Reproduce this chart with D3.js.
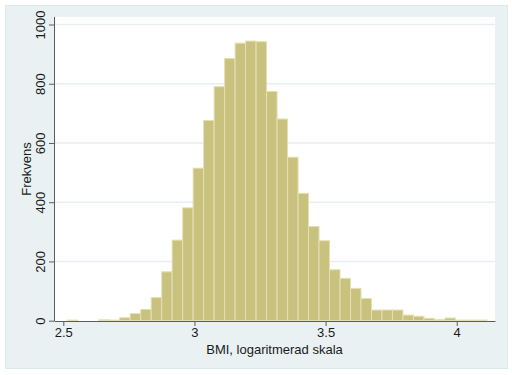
<!DOCTYPE html>
<html>
<head>
<meta charset="utf-8">
<script src="https://cdn.jsdelivr.net/npm/d3@7"></script>
<style>
  html, body { margin: 0; padding: 0; background: #fff; }
  #chart { width: 512px; height: 375px; }
  .chart-svg { display: block; font-family: "Liberation Sans", Arial, sans-serif; }
  .axis-g text { fill: #1a1a1a; font-size: 13px; }
  .axis-g .tick line, .axis-g .domain { stroke: #5c5c5c; }
  .bar-rect { fill: #c9c27f; stroke: #e4e0b2; stroke-width: 1; }
  .grid-line { stroke: #e7eff1; stroke-width: 1.4; }
  .axis-title { fill: #1a1a1a; font-size: 13px; }
</style>
</head>
<body>
<div id="chart"></div>
<script>
// left edges of the histogram bins (BMI on log scale)
const binLefts = [
  2.515, 2.555, 2.595, 2.635, 2.675, 2.715, 2.755, 2.795, 2.835, 2.875,
  2.915, 2.955, 2.995, 3.035, 3.075, 3.115, 3.155, 3.195, 3.235, 3.275,
  3.315, 3.355, 3.395, 3.435, 3.475, 3.515, 3.555, 3.595, 3.635, 3.675,
  3.715, 3.755, 3.795, 3.835, 3.875, 3.915, 3.955, 3.995, 4.035, 4.075,
];
const binWidth = 0.04;
const counts = [
  2, 0, 0, 3, 2, 10, 24, 38, 78, 165,
  272, 381, 515, 676, 790, 885, 937, 944, 942, 774,
  681, 552, 430, 318, 270, 172, 143, 109, 75, 36,
  36, 36, 19, 15, 8, 4, 9, 2, 2, 2,
];
const xTicks = [2.5, 3, 3.5, 4];
const yTicks = [0, 200, 400, 600, 800, 1000];
const xTitle = "BMI, logaritmerad skala";
const yTitle = "Frekvens";

class Histogram {
  constructor({ el }) {
    this.el = el;
    this.setup();
    this.scaffold();
    this.render();
  }

  setup() {
    this.width = 512;
    this.height = 375;
    // plot region (white area) in pixels
    this.plotLeft = 54;
    this.plotRight = 495;
    this.plotTop = 17;
    this.plotBottom = 321;

    this.x = d3.scaleLinear().domain([2.4645, 4.1459]).range([this.plotLeft, this.plotRight]);
    this.y = d3.scaleLinear().domain([0, 1000]).range([320.7, 24.5]);
    this.data = binLefts.map((x0, i) => ({ x0, x1: x0 + binWidth, n: counts[i] }));
  }

  scaffold() {
    this.svg = d3
      .select(this.el)
      .append("svg")
      .attr("class", "chart-svg")
      .attr("width", this.width)
      .attr("height", this.height)
      .attr("viewBox", [0, 0, this.width, this.height]);
    this.gBg = this.svg.append("g").attr("class", "bg-g");
    this.gGrid = this.svg.append("g").attr("class", "grid-g");
    this.gBars = this.svg.append("g").attr("class", "bars-g");
    this.gX = this.svg.append("g").attr("class", "axis-g axis-g--x");
    this.gY = this.svg.append("g").attr("class", "axis-g axis-g--y");
    this.gTitles = this.svg.append("g").attr("class", "titles-g");
  }

  render() {
    this.renderBackground();
    this.renderGrid();
    this.renderBars();
    this.renderXAxis();
    this.renderYAxis();
    this.renderTitles();
  }

  renderBackground() {
    this.gBg
      .append("rect")
      .attr("x", 5.5)
      .attr("y", 5.5)
      .attr("width", 502)
      .attr("height", 363)
      .attr("fill", "#e9f1f3")
      .attr("stroke", "#dde8eb");
    this.gBg
      .append("rect")
      .attr("x", this.plotLeft)
      .attr("y", this.plotTop)
      .attr("width", this.plotRight - this.plotLeft)
      .attr("height", this.plotBottom - this.plotTop)
      .attr("fill", "#fff");
  }

  renderGrid() {
    this.gGrid
      .selectAll(".grid-line")
      .data(yTicks.filter((d) => d > 0))
      .join("line")
      .attr("class", "grid-line")
      .attr("x1", this.plotLeft)
      .attr("x2", this.plotRight)
      .attr("y1", (d) => this.y(d))
      .attr("y2", (d) => this.y(d));
  }

  renderBars() {
    this.gBars
      .selectAll(".bar-rect")
      .data(this.data.filter((d) => d.n > 0))
      .join("rect")
      .attr("class", "bar-rect")
      .attr("x", (d) => this.x(d.x0))
      .attr("width", (d) => this.x(d.x1) - this.x(d.x0))
      .attr("y", (d) => this.y(d.n))
      .attr("height", (d) => this.y(0) - this.y(d.n));
  }

  renderXAxis() {
    this.gX
      .attr("transform", `translate(0,${this.plotBottom})`)
      .call(
        d3
          .axisBottom(this.x)
          .tickValues(xTicks)
          .tickFormat(d3.format("~g"))
          .tickSize(5)
          .tickPadding(2)
          .tickSizeOuter(0)
      );
  }

  renderYAxis() {
    this.gY
      .attr("transform", `translate(${this.plotLeft},0)`)
      .call(
        d3
          .axisLeft(this.y)
          .tickValues(yTicks)
          .tickFormat(d3.format("d"))
          .tickSize(5)
          .tickPadding(4)
          .tickSizeOuter(0)
      )
      .call((g) =>
        g
          .select(".domain")
          .attr("d", `M0.5,${this.plotTop}V${this.plotBottom}`)
      )
      .call((g) =>
        g
          .selectAll(".tick text")
          .attr("transform", "rotate(-90)")
          .attr("x", 0)
          .attr("y", -9)
          .attr("dy", 0)
          .attr("text-anchor", "middle")
      );
  }

  renderTitles() {
    this.gTitles
      .append("text")
      .attr("class", "axis-title")
      .attr("x", (this.plotLeft + this.plotRight) / 2)
      .attr("y", 354)
      .attr("text-anchor", "middle")
      .text(xTitle);
    this.gTitles
      .append("text")
      .attr("class", "axis-title")
      .attr("transform", `translate(31,${(this.plotTop + this.plotBottom) / 2}) rotate(-90)`)
      .attr("text-anchor", "middle")
      .text(yTitle);
  }
}

new Histogram({ el: document.getElementById("chart") });
</script>
</body>
</html>
